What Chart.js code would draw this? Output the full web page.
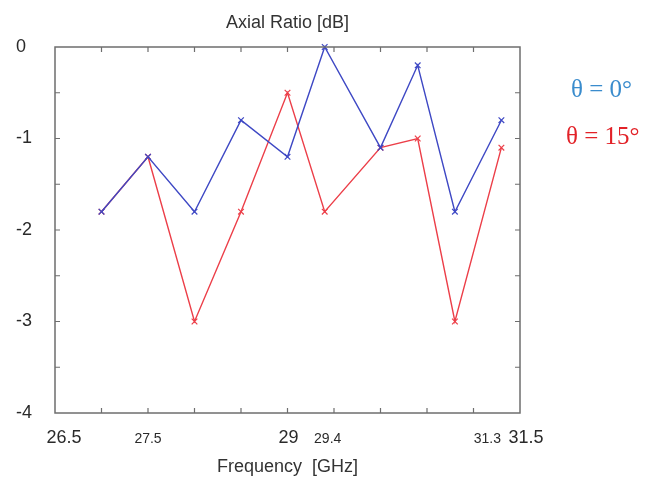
<!DOCTYPE html>
<html>
<head>
<meta charset="utf-8">
<script src="https://cdn.jsdelivr.net/npm/chart.js@4/dist/chart.umd.min.js"></script>
<style>
  html, body { margin: 0; padding: 0; background: #ffffff; }
  #wrap { width: 660px; height: 480px; position: relative; }
</style>
</head>
<body>
<div id="wrap"><canvas id="c" width="660" height="480"></canvas></div>
<script>
// ---- data ----
const frequencyGHz = [27.0, 27.5, 28.0, 28.5, 29.0, 29.4, 30.0, 30.4, 30.8, 31.3];
const axialRatio0 = [-1.8, -1.2, -1.8, -0.8, -1.2, 0.0, -1.1, -0.2, -1.8, -0.8];
const axialRatio15 = [-1.8, -1.2, -3.0, -1.8, -0.5, -1.8, -1.1, -1.0, -3.0, -1.1];
const seriesNames = ['\u03B8 = 0\u00B0', '\u03B8 = 15\u00B0'];
const xLabelValues = [26.5, 27.5, 29, 29.4, 31.3, 31.5];
const xLabelTexts = ['26.5', '27.5', '29', '29.4', '31.3', '31.5'];
const xTickValues = [27, 27.5, 28, 28.5, 29, 29.5, 30, 30.5, 31];
const yTickValues = [-3.5, -3, -2.5, -2, -1.5, -1, -0.5];

// ---- styling (not data) ----
const BLUE_LINE = 'rgb(62,72,196)';
const RED_LINE = 'rgb(236,62,72)';
const BLUE_TEXT = 'rgb(58,140,205)';
const RED_TEXT = 'rgb(226,34,40)';
const SANS = '"Liberation Sans", Arial, sans-serif';
const SERIF = '"Liberation Serif", "Times New Roman", serif';
const bigLabels = { '26.5': 9, '29': 1, '31.5': 6 };
const smallLabels = { '27.5': 0, '29.4': 3, '31.3': -14 };

const toPoints = (xs, ys) => xs.map((x, i) => ({ x: x, y: ys[i] }));

const frame = {
  id: 'frame',
  afterDatasetsDraw(chart) {
    const { ctx, chartArea: a, scales: { x, y } } = chart;
    ctx.save();
    ctx.strokeStyle = '#6e6e6e';
    ctx.lineWidth = 1.5;
    ctx.strokeRect(a.left, a.top, a.right - a.left, a.bottom - a.top);
    ctx.lineWidth = 1.2;
    ctx.beginPath();
    xTickValues.forEach(v => {
      const px = x.getPixelForValue(v);
      ctx.moveTo(px, a.bottom); ctx.lineTo(px, a.bottom - 5);
      ctx.moveTo(px, a.top); ctx.lineTo(px, a.top + 5);
    });
    yTickValues.forEach(v => {
      const py = y.getPixelForValue(v);
      ctx.moveTo(a.left, py); ctx.lineTo(a.left + 5, py);
      ctx.moveTo(a.right, py); ctx.lineTo(a.right - 5, py);
    });
    ctx.stroke();

    // x tick labels
    ctx.fillStyle = '#2a2a2a';
    ctx.textAlign = 'center';
    ctx.textBaseline = 'alphabetic';
    xLabelValues.forEach((v, i) => {
      const t = xLabelTexts[i];
      const big = t in bigLabels;
      const off = big ? bigLabels[t] : smallLabels[t];
      ctx.font = (big ? '18px ' : '14px ') + SANS;
      ctx.fillText(t, x.getPixelForValue(v) + off, a.bottom + 30);
    });

    // legend
    ctx.textAlign = 'left';
    ctx.textBaseline = 'middle';
    ctx.font = '25px ' + SERIF;
    ctx.fillStyle = BLUE_TEXT;
    ctx.fillText(seriesNames[0], 571, 90);
    ctx.fillStyle = RED_TEXT;
    ctx.fillText(seriesNames[1], 566, 137);
    ctx.restore();
  }
};

new Chart(document.getElementById('c'), {
  type: 'scatter',
  data: {
    datasets: [
      {
        label: seriesNames[0],
        data: toPoints(frequencyGHz, axialRatio0),
        showLine: true,
        borderColor: BLUE_LINE,
        backgroundColor: BLUE_LINE,
        borderWidth: 1.4,
        pointStyle: 'crossRot',
        pointRadius: 4,
        pointBorderWidth: 1.2,
        pointBorderColor: BLUE_LINE,
        clip: false,
        order: 1
      },
      {
        label: seriesNames[1],
        data: toPoints(frequencyGHz, axialRatio15),
        showLine: true,
        borderColor: RED_LINE,
        backgroundColor: RED_LINE,
        borderWidth: 1.4,
        pointStyle: 'crossRot',
        pointRadius: 4,
        pointBorderWidth: 1.2,
        pointBorderColor: RED_LINE,
        clip: false,
        order: 2
      }
    ]
  },
  options: {
    responsive: false,
    animation: false,
    devicePixelRatio: 1,
    layout: { padding: { left: 16, right: 140, top: 0, bottom: 0 } },
    plugins: {
      legend: { display: false },
      tooltip: { enabled: false },
      title: {
        display: true,
        text: 'Axial Ratio [dB]',
        fullSize: false,
        color: '#333333',
        font: { family: SANS, size: 18, weight: 'normal' },
        padding: { top: 12, bottom: 13.4 }
      }
    },
    scales: {
      x: {
        type: 'linear',
        min: 26.5,
        max: 31.5,
        grid: { display: false },
        border: { display: false },
        ticks: { display: false },
        title: {
          display: true,
          text: 'Frequency  [GHz]',
          color: '#333333',
          font: { family: SANS, size: 18, weight: 'normal' },
          padding: { top: 0, bottom: 2 }
        },
        afterFit(scale) { scale.height = 67; }
      },
      y: {
        type: 'linear',
        min: -4,
        max: 0,
        grid: { display: false, drawTicks: false },
        border: { display: false },
        ticks: {
          stepSize: 0.5,
          autoSkip: false,
          crossAlign: 'far',
          color: '#2a2a2a',
          font: { family: SANS, size: 18 },
          callback: v => (Number.isInteger(v) ? String(v === 0 ? 0 : v) : '')
        },
        afterFit(scale) { scale.width = 39; }
      }
    }
  },
  plugins: [frame]
});
</script>
</body>
</html>
